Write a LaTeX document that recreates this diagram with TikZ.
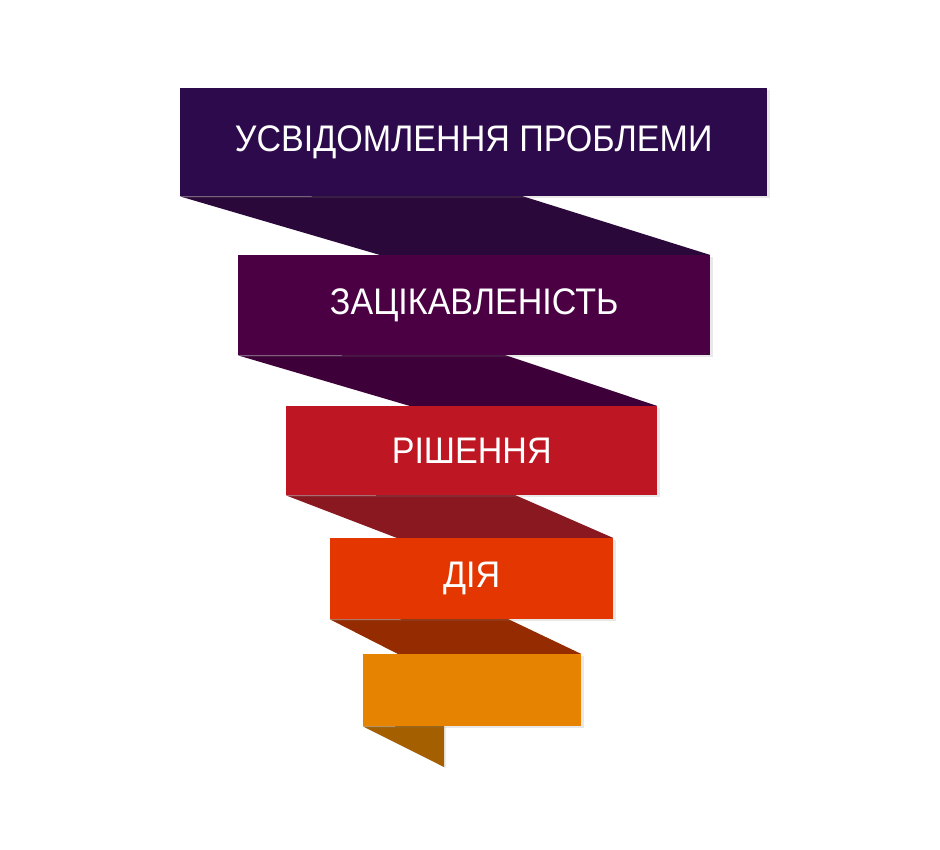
\documentclass[tikz,border=0pt]{standalone}
\usepackage{fontspec}
\setmainfont[FakeStretch=0.92]{Liberation Sans}
\usetikzlibrary{shadows,backgrounds}

\definecolor{awarecol}{HTML}{2D0A4B}
\definecolor{awarefold}{HTML}{2A0839}
\definecolor{interestcol}{HTML}{4B0044}
\definecolor{interestfold}{HTML}{3D0039}
\definecolor{decisioncol}{HTML}{BE1622}
\definecolor{decisionfold}{HTML}{8A1820}
\definecolor{actioncol}{HTML}{E33600}
\definecolor{actionfold}{HTML}{952B00}
\definecolor{endcol}{HTML}{E68300}
\definecolor{endfold}{HTML}{A35F00}

\begin{document}
\begin{tikzpicture}[x=1pt, y=-1pt]
	% Define styles
	\tikzstyle{stage} = [rectangle, anchor=north west, inner sep=0pt, text=white, font=\fontsize{37}{44}\selectfont, drop shadow={shadow xshift=2.5pt, shadow yshift=-2pt, opacity=0.18}]
	\tikzstyle{fold} = [draw=none]
	
	\useasboundingbox (0,0) rectangle (940,849);
	
	% Nodes
	\node (aware) [stage, fill=awarecol, minimum width=587pt, minimum height=108pt] at (180,88) {УСВІДОМЛЕННЯ ПРОБЛЕМИ};
	\node (interest) [stage, fill=interestcol, minimum width=472pt, minimum height=100pt] at (238,255) {ЗАЦІКАВЛЕНІСТЬ};
	\node (decision) [stage, fill=decisioncol, minimum width=371pt, minimum height=89pt] at (286,406) {РІШЕННЯ};
	\node (action) [stage, fill=actioncol, minimum width=283pt, minimum height=81pt] at (330,538) {ДІЯ};
	\node (final) [stage, fill=endcol, minimum width=218pt, minimum height=72pt] at (363,654) {};
	
	% Folds
	\begin{scope}[on background layer]
		\fill [fold, awarefold] (aware.south west) -- (522,196) -- (interest.north east) -- (380,255) -- cycle;
		\fill [fold, interestfold] (interest.south west) -- (505,355) -- (decision.north east) -- (410,406) -- cycle;
		\fill [fold, decisionfold] (decision.south west) -- (515,495) -- (action.north east) -- (397,538) -- cycle;
		\fill [fold, actionfold] (action.south west) -- (508,619) -- (final.north east) -- (398,654) -- cycle;
		\fill [fold, endfold, drop shadow={shadow xshift=2pt, shadow yshift=-1pt, opacity=0.15}] (final.south west) -- (444,726) -- (444,767) -- cycle;
	\end{scope}
\end{tikzpicture}
\end{document}
